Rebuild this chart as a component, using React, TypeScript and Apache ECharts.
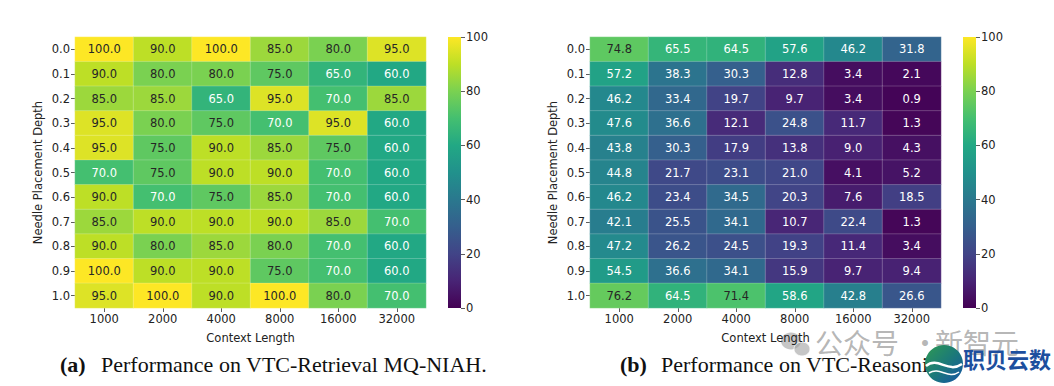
import React, { useEffect, useRef } from "react";
import * as echarts from "echarts";

const contextLengths = ["1000", "2000", "4000", "8000", "16000", "32000"];
const depths = ["0.0", "0.1", "0.2", "0.3", "0.4", "0.5", "0.6", "0.7", "0.8", "0.9", "1.0"];

// rows = depth 0.0..1.0, cols = context length
const retrievalScores = [
  [100, 90, 100, 85, 80, 95],
  [90, 80, 80, 75, 65, 60],
  [85, 85, 65, 95, 70, 85],
  [95, 80, 75, 70, 95, 60],
  [95, 75, 90, 85, 75, 60],
  [70, 75, 90, 90, 70, 60],
  [90, 70, 75, 85, 70, 60],
  [85, 90, 90, 90, 85, 70],
  [90, 80, 85, 80, 70, 60],
  [100, 90, 90, 75, 70, 60],
  [95, 100, 90, 100, 80, 70],
];

const reasoningScores = [
  [74.8, 65.5, 64.5, 57.6, 46.2, 31.8],
  [57.2, 38.3, 30.3, 12.8, 3.4, 2.1],
  [46.2, 33.4, 19.7, 9.7, 3.4, 0.9],
  [47.6, 36.6, 12.1, 24.8, 11.7, 1.3],
  [43.8, 30.3, 17.9, 13.8, 9.0, 4.3],
  [44.8, 21.7, 23.1, 21.0, 4.1, 5.2],
  [46.2, 23.4, 34.5, 20.3, 7.6, 18.5],
  [42.1, 25.5, 34.1, 10.7, 22.4, 1.3],
  [47.2, 26.2, 24.5, 19.3, 11.4, 3.4],
  [54.5, 36.6, 34.1, 15.9, 9.7, 9.4],
  [76.2, 64.5, 71.4, 58.6, 42.8, 26.6],
];

const colorbarMax = [100];

const viridis = [
  "#440154", "#482475", "#414487", "#355f8d", "#2a788e", "#21918c",
  "#22a884", "#44bf70", "#7ad151", "#bddf26", "#fde725",
];

const FONT = "DejaVu Sans";
const SERIF = "Liberation Serif";
const TXT = "#222";

function buildCells(matrix: number[][]) {
  const out: any[] = [];
  matrix.forEach((row, yi) => {
    row.forEach((v, xi) => {
      out.push({
        value: [xi, yi, v],
        label: { color: v >= 71 ? "#262626" : "#ffffff" },
      });
    });
  });
  return out;
}

function heatAxes(idx: number) {
  const x = {
    type: "category",
    gridIndex: idx,
    data: contextLengths,
    position: "bottom",
    axisLine: { show: false },
    axisTick: { show: true, alignWithLabel: true, length: 4, lineStyle: { color: "#333", width: 0.8 } },
    axisLabel: { margin: 5, fontSize: 11.5, fontFamily: FONT, color: TXT },
    splitLine: { show: false },
    name: "Context Length",
    nameLocation: "middle",
    nameGap: 24,
    nameTextStyle: { fontSize: 11.5, fontFamily: FONT, color: TXT },
  };
  const y = {
    type: "category",
    gridIndex: idx,
    data: depths,
    inverse: true,
    axisLine: { show: false },
    axisTick: { show: true, alignWithLabel: true, length: 4, lineStyle: { color: "#333", width: 0.8 } },
    axisLabel: { margin: 5, fontSize: 11.5, fontFamily: FONT, color: TXT },
    splitLine: { show: false },
    name: "Needle Placement Depth",
    nameLocation: "middle",
    nameGap: 31,
    nameTextStyle: { fontSize: 11.5, fontFamily: FONT, color: TXT },
  };
  return { x, y };
}

function cbAxes(idx: number) {
  const x = { type: "category", gridIndex: idx, data: [""], show: false };
  const y = {
    type: "value",
    gridIndex: idx,
    min: 0,
    max: 100,
    interval: 20,
    position: "right",
    axisLine: { show: false },
    axisTick: { show: true, length: 4, lineStyle: { color: "#333", width: 0.8 } },
    axisLabel: { margin: 5, fontSize: 11.5, fontFamily: FONT, color: TXT },
    splitLine: { show: false },
  };
  return { x, y };
}

function gradient() {
  return new echarts.graphic.LinearGradient(
    0, 1, 0, 0,
    viridis.map((c, i) => ({ offset: i / (viridis.length - 1), color: c }))
  );
}

export default function App() {
  const ref = useRef<HTMLDivElement>(null);

  useEffect(() => {
    if (!ref.current) return;
    const chart = echarts.init(ref.current, null, { renderer: "svg" });
    const h0 = heatAxes(0);
    const h1 = heatAxes(1);
    const c0 = cbAxes(2);
    const c1 = cbAxes(3);

    const heatSeries = (idx: number, matrix: number[][]) => ({
      type: "heatmap",
      xAxisIndex: idx,
      yAxisIndex: idx,
      data: buildCells(matrix),
      itemStyle: { borderColor: "rgba(255,255,255,0.35)", borderWidth: 0.6 },
      label: {
        show: true,
        fontSize: 11.5,
        fontFamily: FONT,
        formatter: (p: any) => Number(p.value[2]).toFixed(1),
      },
      emphasis: { disabled: true },
    });

    const cbSeries = (idx: number) => ({
      type: "bar",
      xAxisIndex: idx,
      yAxisIndex: idx,
      data: colorbarMax,
      barWidth: "100%",
      silent: true,
      itemStyle: { color: gradient() },
    });

    chart.setOption({
      animation: false,
      backgroundColor: "#ffffff",
      grid: [
        { left: 75, top: 37, width: 351, height: 271 },
        { left: 590, top: 37, width: 351, height: 271 },
        { left: 448, top: 37, width: 13, height: 271 },
        { left: 963, top: 37, width: 13, height: 271 },
      ],
      xAxis: [h0.x, h1.x, c0.x, c1.x],
      yAxis: [h0.y, h1.y, c0.y, c1.y],
      visualMap: [
        { type: "continuous", seriesIndex: 0, min: 0, max: 100, show: false, inRange: { color: viridis } },
        { type: "continuous", seriesIndex: 1, min: 0, max: 100, show: false, inRange: { color: viridis } },
      ],
      series: [
        heatSeries(0, retrievalScores),
        heatSeries(1, reasoningScores),
        cbSeries(2),
        cbSeries(3),
      ],
      graphic: [
        {
          type: "text", left: 60, top: 353,
          style: { text: "(a)", font: `bold 22px "${SERIF}"`, fill: "#111" },
        },
        {
          type: "text", left: 101, top: 353,
          style: { text: "Performance on VTC-Retrieval MQ-NIAH.", font: `22px "${SERIF}"`, fill: "#111" },
        },
        {
          type: "text", left: 620, top: 353,
          style: { text: "(b)", font: `bold 22px "${SERIF}"`, fill: "#111" },
        },
        {
          type: "text", left: 661, top: 353,
          style: { text: "Performance on VTC-Reasoning.", font: `22px "${SERIF}"`, fill: "#111" },
        },
        // watermark
        {
          type: "ellipse", shape: { cx: 791, cy: 341, rx: 10, ry: 8.5 },
          style: { fill: "rgba(160,160,160,0.6)" },
        },
        {
          type: "ellipse", shape: { cx: 802, cy: 349, rx: 8, ry: 7 },
          style: { fill: "rgba(160,160,160,0.6)", stroke: "rgba(255,255,255,0.8)", lineWidth: 1 },
        },
        {
          type: "text", left: 815, top: 328,
          style: { text: "公众号", font: `28px "Noto Sans CJK SC"`, fill: "rgba(140,140,140,0.65)" },
        },
        {
          type: "text", left: 911, top: 328,
          style: { text: "·", font: `28px "Noto Sans CJK SC"`, fill: "rgba(140,140,140,0.65)" },
        },
        {
          type: "text", left: 935, top: 328,
          style: { text: "新智元", font: `28px "Noto Sans CJK SC"`, fill: "rgba(140,140,140,0.65)" },
        },
        {
          type: "circle", shape: { cx: 944, cy: 364, r: 19 },
          style: {
            fill: new echarts.graphic.LinearGradient(0, 0, 1, 1, [
              { offset: 0, color: "#2f9a52" },
              { offset: 0.5, color: "#1c7a78" },
              { offset: 1, color: "#1553a6" },
            ]),
          },
        },
        {
          type: "bezierCurve",
          shape: { x1: 926, y1: 366, x2: 962, y2: 364, cpx1: 938, cpy1: 356, cpx2: 948, cpy2: 374 },
          style: { stroke: "#ffffff", lineWidth: 2.5, fill: "none" },
        },
        {
          type: "bezierCurve",
          shape: { x1: 929, y1: 373, x2: 959, y2: 372, cpx1: 940, cpy1: 366, cpx2: 948, cpy2: 380 },
          style: { stroke: "#ffffff", lineWidth: 1.5, fill: "none" },
        },
        {
          type: "text", left: 963, top: 347,
          style: { text: "职贝云数", font: `bold 22px "Noto Sans CJK SC"`, fill: "#1d4f9e" },
        },
      ],
    });

    return () => chart.dispose();
  }, []);

  return (
    <div
      ref={ref}
      style={{ position: "absolute", left: 0, top: 0, width: 1054, height: 386 }}
    />
  );
}
